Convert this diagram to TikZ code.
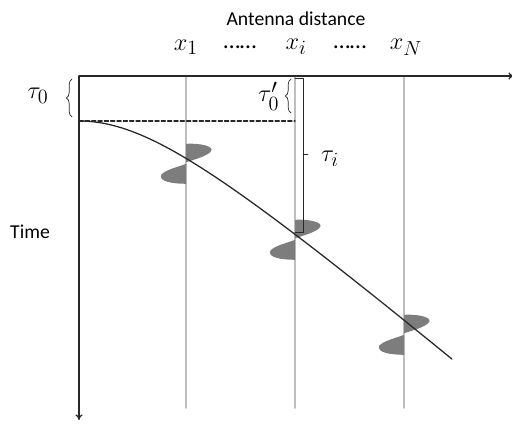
\documentclass[tikz,border=0pt]{standalone}
\usepackage[no-math]{fontspec}
\setmainfont{Carlito}
\usepackage{amsmath}
\usepackage{tikz}
\usetikzlibrary{arrows.meta,calc,decorations.pathreplacing}
\definecolor{axisgray}{RGB}{40,40,40}
\definecolor{antgray}{RGB}{190,190,190}
\definecolor{wavegray}{RGB}{125,125,125}

\tikzset{
  antenna/.style={antgray, line width=1.3pt},
  brc/.style={axisgray, line width=0.5pt, decorate, decoration={brace, amplitude=4pt}},
  mlabel/.style={font=\fontsize{19}{21}\selectfont, inner sep=0pt},
  wavelet/.pic={
    \fill[wavegray] (0,0.48) .. controls (0.35,0.50) and (0.70,0.42) .. (0.63,0.30)
      .. controls (0.55,0.18) and (0.20,0.08) .. (0,0.02) -- cycle;
    \fill[wavegray] (0,-0.02) .. controls (-0.20,-0.10) and (-0.55,-0.18) .. (-0.62,-0.30)
      .. controls (-0.68,-0.46) and (-0.35,-0.52) .. (0,-0.52) -- cycle;
  }
}

\begin{document}
\begin{tikzpicture}[>={To[length=4pt,width=5pt]}, line cap=round, line join=round, font=\fontsize{14}{16}\selectfont]
  \path[use as bounding box] (0,0) rectangle (12.8,10.6);

  % Axes corners
  \coordinate (O) at (1.975,8.7);
  \coordinate (xend) at (12.85,8.7);
  \coordinate (tend) at (1.975,0.1);

  % Antenna lines
  \foreach \name/\xx in {a1/4.65,ai/7.375,aN/10.1} {
    \coordinate (\name top) at (\xx,8.7);
    \coordinate (\name bot) at (\xx,0.4);
    \draw[antenna] (\name top) -- (\name bot);
  }

  % Wavelets
  \pic at (4.65,6.525) {wavelet};
  \pic at (7.375,4.625) {wavelet};
  \pic at (10.1,2.25) {wavelet};

  % Arrival time curve
  \draw[axisgray, line width=0.9pt]
    plot[domain=0:9.325, samples=80] ({1.975+\x},{7.575+2.3-sqrt(2.3*2.3+0.7225*\x*\x)});

  % Axes
  \draw[axisgray, line width=0.9pt, ->] (O) -- (xend);
  \draw[axisgray, line width=0.9pt, ->] (O) -- (tend);

  % Reference time
  \coordinate (d0) at (1.975,7.575);
  \coordinate (di) at (7.375,7.575);
  \draw[axisgray, line width=0.8pt, dashed, dash pattern=on 3pt off 1.5pt] (d0) -- (di);

  % Braces
  \draw[brc] (1.8,7.675) -- (1.8,8.625);
  \draw[brc] (7.275,7.775) -- (7.275,8.625);

  % Delay bracket
  \coordinate (bt) at (7.375,8.65);
  \coordinate (bb) at (7.375,4.8);
  \draw[axisgray, line width=0.6pt] (bt) -- ++(0.2,0) |- (bb);
  \draw[axisgray, line width=0.6pt] (7.575,6.75) -- (7.7,6.75);

  % Labels
  \node (dist) at (7.4,10.13) {Antenna distance};
  \node[mlabel] (lx1) at (4.65,9.42) {$x_1$};
  \node (dots1) at (6.0,9.42) {\fontsize{17}{19}\selectfont\ldots\ldots};
  \node[mlabel] (lxi) at (7.4,9.42) {$x_i$};
  \node (dots2) at (8.75,9.42) {\fontsize{17}{19}\selectfont\ldots\ldots};
  \node[mlabel] (lxN) at (10.15,9.42) {$x_N$};
  \node[mlabel] (tau0) at (0.95,8.2) {$\tau_0$};
  \node[mlabel] (tau0p) at (6.72,8.2) {$\tau_0'$};
  \node[mlabel] (taui) at (8.25,6.62) {$\tau_i$};
  \node (time) at (0.75,4.8) {Time};

\end{tikzpicture}
\end{document}
